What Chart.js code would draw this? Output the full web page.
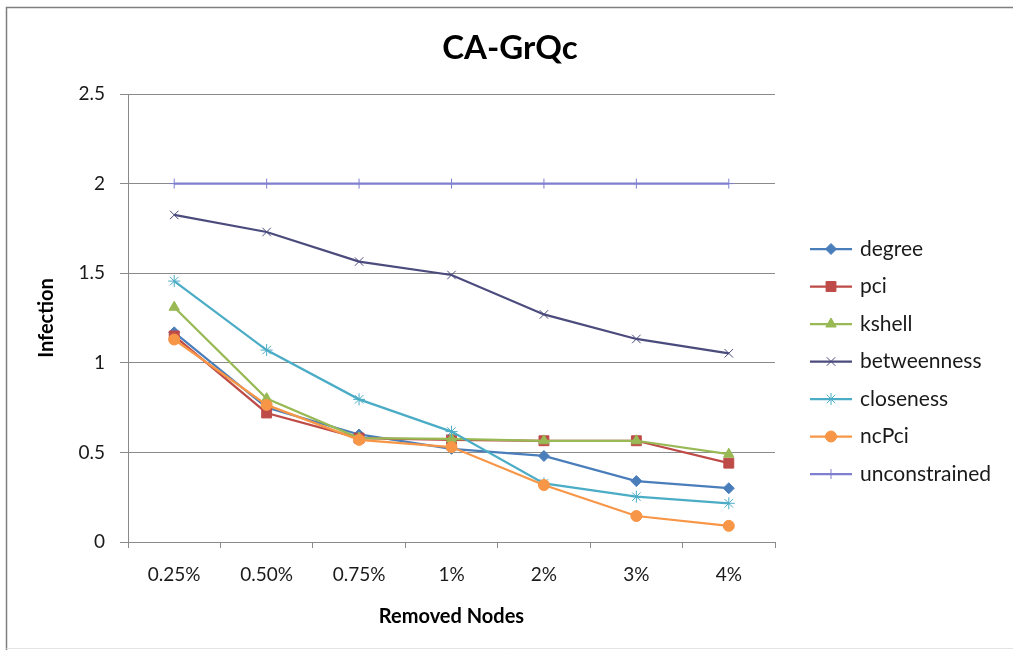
<!DOCTYPE html>
<html>
<head>
<meta charset="utf-8">
<title>CA-GrQc</title>
<script src="https://cdn.jsdelivr.net/npm/chart.js@4/dist/chart.umd.min.js"></script>
<style>
  html, body { margin: 0; padding: 0; background: #ffffff; }
  #wrap { width: 1013px; height: 650px; position: relative; }
</style>
</head>
<body>
<div id="wrap"><canvas id="chart" width="1013" height="650"></canvas></div>
<script>
// Fraction of nodes removed before the spread is simulated
const removedNodes = ['0.25%', '0.50%', '0.75%', '1%', '2%', '3%', '4%'];

// Infection size for each removal strategy
const degree        = [1.17, 0.75, 0.60, 0.52, 0.48, 0.34, 0.30];
const pci           = [1.15, 0.72, 0.58, 0.57, 0.565, 0.565, 0.44];
const kshell        = [1.31, 0.80, 0.58, 0.575, 0.565, 0.565, 0.49];
const betweenness   = [1.825, 1.73, 1.565, 1.49, 1.27, 1.133, 1.053];
const closeness     = [1.456, 1.071, 0.796, 0.616, 0.327, 0.253, 0.216];
const ncPci         = [1.13, 0.765, 0.57, 0.53, 0.318, 0.145, 0.09];
const unconstrained = [2, 2, 2, 2, 2, 2, 2];

const yTicks = [0, 0.5, 1, 1.5, 2, 2.5];
const chartTitle = 'CA-GrQc';

const FONT = 'Lato, "Open Sans", "DejaVu Sans", sans-serif';
const GRID = '#8a8a8a';

const seriesDefs = [
  { label: 'degree',        data: degree,        color: '#4a7ebb', style: 'rectRot',  radius: 5.5 },
  { label: 'pci',           data: pci,           color: '#be4b48', style: 'rect',     radius: 7 },
  { label: 'kshell',        data: kshell,        color: '#98b954', style: 'triangle', radius: 6 },
  { label: 'betweenness',   data: betweenness,   color: '#4b4b7d', style: 'crossRot', radius: 6 },
  { label: 'closeness',     data: closeness,     color: '#4bacc6', style: 'star',     radius: 6 },
  { label: 'ncPci',         data: ncPci,         color: '#f79646', style: 'circle',   radius: 5.5 },
  { label: 'unconstrained', data: unconstrained, color: '#7f7fd0', style: 'cross',    radius: 5 }
];

const datasets = seriesDefs.map((s, i) => ({
  label: s.label,
  data: s.data,
  borderColor: s.color,
  backgroundColor: s.color,
  borderWidth: 2.25,
  pointStyle: s.style,
  pointRadius: s.radius,
  pointBorderWidth: 1,
  pointBorderColor: s.color,
  pointBackgroundColor: s.color,
  tension: 0,
  fill: false,
  order: seriesDefs.length - i   // later series sit on top
}));

// Title centred over the whole canvas, legend on the right:
// each entry is a short line with the series marker in its middle
const annotations = {
  id: 'annotations',
  afterDraw(chart) {
    const ctx = chart.ctx;
    ctx.save();
    ctx.fillStyle = '#000000';
    ctx.font = 'bold 33px ' + FONT;
    ctx.textAlign = 'center';
    ctx.textBaseline = 'alphabetic';
    ctx.fillText(chartTitle, 510, 59);

    const x0 = 810, x1 = 852, tx = 860, y0 = 249, step = 37.5;
    chart.data.datasets.forEach((ds, i) => {
      const y = y0 + i * step;
      ctx.strokeStyle = ds.borderColor;
      ctx.lineWidth = 2.25;
      ctx.beginPath();
      ctx.moveTo(x0, y);
      ctx.lineTo(x1, y);
      ctx.stroke();
      ctx.fillStyle = ds.pointBackgroundColor;
      ctx.strokeStyle = ds.pointBorderColor;
      ctx.lineWidth = 1;
      Chart.helpers.drawPoint(ctx, {
        pointStyle: ds.pointStyle, radius: ds.pointRadius, rotation: 0, borderWidth: 1
      }, (x0 + x1) / 2, y);
      ctx.fillStyle = '#1a1a1a';
      ctx.font = '21px ' + FONT;
      ctx.textAlign = 'left';
      ctx.textBaseline = 'middle';
      ctx.fillText(ds.label, tx, y);
    });
    ctx.restore();
  }
};

// Outer chart frame
const frame = {
  id: 'frame',
  beforeDraw(chart) {
    const ctx = chart.ctx;
    ctx.save();
    ctx.fillStyle = '#ffffff';
    ctx.fillRect(0, 0, chart.width, chart.height);
    ctx.strokeStyle = '#7f7f7f';
    ctx.lineWidth = 1.5;
    ctx.beginPath();
    ctx.moveTo(6.5, 650);
    ctx.lineTo(6.5, 7.5);
    ctx.lineTo(1013, 7.5);
    ctx.stroke();
    ctx.strokeStyle = '#e4e4e4';
    ctx.lineWidth = 1;
    ctx.beginPath();
    ctx.moveTo(6.5, 648.5);
    ctx.lineTo(1013, 648.5);
    ctx.stroke();
    ctx.restore();
  }
};

new Chart(document.getElementById('chart'), {
  type: 'line',
  data: { labels: removedNodes, datasets },
  plugins: [frame, annotations],
  options: {
    responsive: false,
    animation: false,
    layout: { padding: { left: 0, right: 238, top: 94, bottom: 0 } },
    plugins: {
      legend: { display: false },
      tooltip: { enabled: false },
      title: { display: false }
    },
    scales: {
      x: {
        type: 'category',
        offset: true,
        afterFit(scale) { scale.height = 108; },
        grid: {
          offset: true,
          drawOnChartArea: false,
          drawTicks: true,
          tickLength: 6,
          color: GRID
        },
        border: { display: true, color: GRID, width: 1 },
        ticks: {
          color: '#1a1a1a',
          padding: 15,
          font: { family: FONT, size: 19 },
          maxRotation: 0
        },
        title: {
          display: true,
          text: 'Removed Nodes',
          color: '#000000',
          font: { family: FONT, size: 20, weight: 'bold', lineHeight: 1.2 },
          padding: { top: 0, bottom: 21 }
        }
      },
      y: {
        min: 0,
        max: 2.5,
        afterFit(scale) { scale.width = 128; },
        afterBuildTicks(scale) { scale.ticks = yTicks.map(v => ({ value: v })); },
        grid: {
          color: GRID,
          drawTicks: true,
          tickLength: 8,
          lineWidth: 1
        },
        border: { display: true, color: GRID, width: 1 },
        ticks: {
          color: '#1a1a1a',
          padding: 15,
          font: { family: FONT, size: 19 },
          callback: (v) => String(v)
        },
        title: {
          display: true,
          text: 'Infection',
          color: '#000000',
          font: { family: FONT, size: 20, weight: 'bold', lineHeight: 1.2 },
          padding: { top: 35, bottom: 0 }
        }
      }
    }
  }
});
</script>
</body>
</html>
